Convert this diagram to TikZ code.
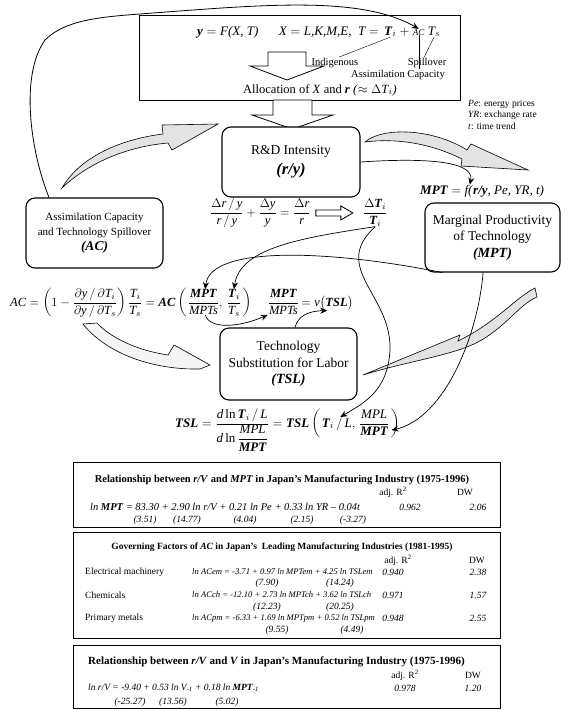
\RequirePackage{fix-cm}
\documentclass[tikz,border=0pt]{standalone}
\usepackage{amsmath}
\usepackage{fontspec}
\setmainfont{Liberation Serif}
\usetikzlibrary{arrows.meta,positioning,calc}

\newcommand{\iv}[1]{\textit{#1}}
\newcommand{\bv}[1]{\textbf{\textit{#1}}}

\begin{document}
\begin{tikzpicture}[x=1pt,y=-1pt,
    % 框、公式和箭头的样式
    mainbox/.style={draw, line width=0.9pt, minimum width=321pt, minimum height=85pt},
    roundbox/.style={draw, line width=1.1pt, rounded corners=9pt, align=center, fill=white, font=\fontsize{13.5}{16.5}\selectfont},
    eqpart/.style={inner sep=0pt, anchor=base west, font=\fontsize{12.5}{14}\selectfont},
    tag/.style={inner sep=1pt, font=\fontsize{10.5}{12}\selectfont},
    note/.style={inner sep=0pt, anchor=west, font=\fontsize{9.5}{11}\selectfont},
    hollow/.style={draw, fill=white, line width=0.8pt},
    swoosh/.style={draw, fill=gray!22, line width=0.6pt},
    link/.style={-{Stealth[length=7pt,width=6pt]}, line width=0.7pt},
    tbl/.style={draw, line width=0.9pt},
    tbltxt/.style={inner sep=0pt, font=\fontsize{9.5}{11}\selectfont},
    tblhead/.style={inner sep=0pt, font=\fontsize{10.5}{12}\selectfont\bfseries}]

    \useasboundingbox (0,0) rectangle (570,710);

    % 顶部的生产函数框
    \node[mainbox] (top) at (299.5,57.5) {};
    \node[eqpart, font=\fontsize{13}{15}\selectfont] (tA) at (197,35) {$\bv{y} = \iv{F(X, T)}$};
    \node[eqpart, font=\fontsize{13}{15}\selectfont] (tB) at ($(tA.base east)+(20,0)$) {$\iv{X} = \iv{L,K,M,E,}\ \ \iv{T} =$};
    \node[eqpart, font=\fontsize{13}{15}\selectfont] (tTi) at ($(tB.base east)+(5,0)$) {$\bv{T}_{i}$};
    \node[eqpart, font=\fontsize{13}{15}\selectfont] (tPlus) at ($(tTi.base east)+(3,0)$) {$+$};
    \node[eqpart, font=\fontsize{9}{10}\selectfont] (acT) at ($(tPlus.base east)+(3,0)$) {\iv{AC}};
    \node[eqpart, font=\fontsize{13}{15}\selectfont] (tTs) at ($(acT.base east)+(3,0)$) {$\iv{T}_{s}$};

    \node[tag] (ind) at (335,63) {Indigenous};
    \node[tag] (spill) at (427,63) {Spillover};
    \node[tag] (assim) at (398,75) {Assimilation Capacity};
    \draw (tTi.south) -- (ind.55);
    \draw (acT.south) -- (acT.south |- assim.north);
    \draw (tTs.south) -- (spill.115);

    % 框内和框下的空心箭头
    \draw[hollow] (268,52) -- (306,52) -- (306,66) -- (324,66) -- (287,80) -- (250,66) -- (268,66) -- cycle;
    \node[font=\fontsize{12.5}{14}\selectfont, inner sep=1pt] (alloc) at (320,90) {Allocation of \iv{X} and \bv{r} \iv{(}$\approx\Delta$\iv{T}$_i$\iv{)}};
    \draw[hollow] (273,100) -- (312,100) -- (312,115) -- (333,115) -- (292.5,129) -- (252,115) -- (273,115) -- cycle;

    % 右上角的变量说明
    \node[note] (pe) at (468,104) {\iv{Pe}: energy prices};
    \node[note] (yr) at (468,115) {\iv{YR}: exchange rate};
    \node[note] (tt) at (468,126) {\iv{t}: time trend};

    % 弯曲的块状箭头
    \filldraw[swoosh] (62,188) .. controls (78,160) and (115,140) .. (163,134) -- (162,125) -- (218,124) -- (172,150) -- (168,143) .. controls (122,147) and (85,166) .. (62,188) -- cycle;
    \filldraw[swoosh] (365,142) .. controls (382,127) and (432,128) .. (467,150) -- (471,144) -- (528,170) -- (461,166) -- (462,159) .. controls (430,143) and (395,138) .. (365,142) -- cycle;
    \filldraw[swoosh, fill=gray!8] (83,324) .. controls (105,352) and (150,370) .. (200,369) -- (210,365) -- (174,345) -- (168,355) .. controls (135,350) and (110,337) .. (97,323) -- cycle;
    \filldraw[swoosh] (535,288) .. controls (515,298) and (497,322) .. (458,341) -- (460,335) -- (363,375) .. controls (405,362) and (448,356) .. (474,344) .. controls (505,329) and (518,305) .. (537,297) -- cycle;

    % 四个圆角框
    \node[roundbox, minimum width=138pt, minimum height=70pt] (rd) at (291,162) {R\&D Intensity\\[3pt]{\fontsize{16.5}{18}\selectfont\bv{(r/y)}}};
    \node[roundbox, minimum width=137pt, minimum height=70pt, font=\fontsize{11}{15}\selectfont] (ac) at (94.5,233) {Assimilation Capacity\\and Technology Spillover\\{\fontsize{13.5}{15}\selectfont\bv{(AC)}}};
    \node[roundbox, minimum width=135pt, minimum height=69pt] (mpt) at (492.5,237.5) {Marginal Productivity\\of Technology\\{\fontsize{14}{15}\selectfont\bv{(MPT)}}};
    \node[roundbox, minimum width=137pt, minimum height=72pt] (tsl) at (288.5,364) {Technology\\Substitution for Labor\\{\fontsize{14}{15}\selectfont\bv{(TSL)}}};

    % R&D 下面的公式
    \node[eqpart] (rdEq) at (210,216) {$\dfrac{\Delta\iv{r}\,/\,\iv{y}}{\iv{r}\,/\,\iv{y}}+\dfrac{\Delta\iv{y}}{\iv{y}}=\dfrac{\Delta\iv{r}}{\iv{r}}$};
    \draw[hollow] ($(rdEq.east)+(5,-3)$) -- ++(25,0) -- ++(0,-4) -- ++(12,7) -- ++(-12,7) -- ++(0,-4) -- ++(-25,0) -- cycle;
    \node[eqpart] (dTi) at ($(rdEq.base east)+(52,0)$) {$\dfrac{\Delta\bv{T}_i}{\bv{T}_i}$};

    % MPT 的函数
    \node[eqpart, font=\fontsize{13}{15}\selectfont] (mptL) at (420,194) {\bv{MPT}};
    \node[eqpart, font=\fontsize{13}{15}\selectfont] (mptR) at ($(mptL.base east)+(3,0)$) {$=$ \iv{f(}\bv{r/y}\iv{, Pe, YR, t)}};

    % AC 的公式
    \node[eqpart] (acEq) at (10,306) {$\iv{AC} = \left(1-\dfrac{\partial\iv{y}\,/\,\partial\iv{T}_i}{\partial\iv{y}\,/\,\partial\iv{T}_s}\right)\dfrac{\iv{T}_i}{\iv{T}_s} = \bv{AC}\left(\vphantom{\dfrac{\bv{M}}{\iv{M}}}\right.$};
    \node[eqpart] (acMpt) at (acEq.base east) {$\dfrac{\bv{MPT}}{\iv{MPTs}},$};
    \node[eqpart] (acTi) at ($(acMpt.base east)+(4,0)$) {$\dfrac{\bv{T}_i}{\iv{T}_s}$};
    \node[eqpart] (acR) at (acTi.base east) {$\left.\vphantom{\dfrac{\bv{M}}{\iv{M}}}\right)$};
    \node[eqpart] (rat) at ($(acR.base east)+(16,0)$) {$\dfrac{\bv{MPT}}{\iv{MPTs}}$};
    \node[eqpart] (vT) at ($(rat.base east)+(2,0)$) {$=\iv{v}\bigl(\bv{TSL}\bigr)$};

    % TSL 的公式
    \node[eqpart, font=\fontsize{13}{15}\selectfont] (tslEq) at (175,427) {$\bv{TSL} = \dfrac{\iv{d}\,\textrm{ln}\,\bv{T}_i\,/\,\iv{L}}{\iv{d}\,\textrm{ln}\,\dfrac{\iv{MPL}}{\bv{MPT}}} = \bv{TSL}\left(\vphantom{\dfrac{\iv{M}}{\bv{M}}}\right.$};
    \node[eqpart, font=\fontsize{13}{15}\selectfont] (tslTi) at (tslEq.base east) {$\bv{T}_i\,/\,\iv{L},\ $};
    \node[eqpart, font=\fontsize{13}{15}\selectfont] (tslMpt) at (tslTi.base east) {$\dfrac{\iv{MPL}}{\bv{MPT}}$};
    \node[eqpart, font=\fontsize{13}{15}\selectfont] (tslR) at (tslMpt.base east) {$\left.\vphantom{\dfrac{\iv{M}}{\bv{M}}}\right)$};

    % 细的连线
    \draw[link, line width=0.8pt] (ac.142) .. controls (30,150) and (20,75) .. (45,40) .. controls (65,20) and (100,17) .. (140,14) .. controls (260,5) and (360,-5) .. (acT.north);
    \draw[link] (rd.east) .. controls (420,158) and (475,160) .. ($(mptR.north west)!0.2!(mptR.north east)$);
    \draw[link] (dTi.south) .. controls (300,238) and (240,248) .. (acTi.north);
    \draw[link] (dTi.south) .. controls (330,268) and (392,295) .. (390,350) .. controls (388,392) and (362,404) .. (tslTi.north);
    \draw[link] (mpt.215) .. controls (330,250) and (210,245) .. (acMpt.north);
    \draw[link] (acMpt.south) .. controls (210,330) and (240,327) .. (rat.south west);
    \draw[link] (tsl.80) .. controls (298,316) and (308,311) .. (vT.south);
    \draw[link] (mpt.255) .. controls (478,335) and (445,418) .. ($(tslMpt.south east)+(2,-6)$);

    % 第一个回归表
    \draw[tbl] (73,462) rectangle (500,527);
    \node[tblhead] (h1) at (282,480) {Relationship between \textit{r/V} and \textit{MPT} in Japan's Manufacturing Industry (1975-1996)};
    \node[tbltxt] (r1) at (393,492) {adj. R\textsuperscript{2}};
    \node[tbltxt] (w1) at (465,492) {DW};
    \node[tbltxt, anchor=west, font=\fontsize{10.5}{12}\selectfont] (e1) at (90,507) {\itshape ln \textbf{MPT} = 83.30 + 2.90 ln r/V + 0.21 ln Pe + 0.33 ln YR -- 0.04t};
    \node[tbltxt] (v1) at (410,507) {\itshape 0.962};
    \node[tbltxt] (d1) at (478,507) {\itshape 2.06};
    \foreach \x/\t [count=\i] in {145/{(3.51)}, 187/{(14.77)}, 245/{(4.04)}, 302/{(2.15)}, 353/{(-3.27)}}
        \node[tbltxt] (s\i) at (\x,520) {\itshape\t};

    % 第二个回归表
    \draw[tbl] (73,532) rectangle (500,638);
    \node[tblhead, font=\fontsize{9.5}{11}\selectfont\bfseries] (h2) at (282,547) {Governing Factors of \textit{AC} in Japan's\ \ Leading Manufacturing Industries (1981-1995)};
    \node[tbltxt] (r2) at (398,560) {adj. R\textsuperscript{2}};
    \node[tbltxt] (w2) at (477,560) {DW};
    \foreach \nm/\eqn/\rr/\dw/\y [count=\i] in {
        Electrical machinery/{ln ACem = -3.71 + 0.97 ln MPTem + 4.25 ln TSLem}/0.940/2.38/572,
        Chemicals/{ln ACch = -12.10 + 2.73 ln MPTch + 3.62 ln TSLch}/0.971/1.57/595,
        Primary metals/{ln ACpm = -6.33 + 1.69 ln MPTpm + 0.52 ln TSLpm}/0.948/2.55/618}{
        \node[tbltxt, anchor=west] (n\i) at (85,\y) {\nm};
        \node[tbltxt, anchor=west, font=\fontsize{8.6}{10}\selectfont] (q\i) at (192,\y) {\itshape \eqn};
        \node[tbltxt] (a\i) at (393,\y) {\itshape \rr};
        \node[tbltxt] (b\i) at (478,\y) {\itshape \dw};
    }
    \foreach \x/\y/\t [count=\i] in {267/583/{(7.90)}, 340/583/{(14.24)}, 267/607/{(12.23)}, 340/607/{(20.25)}, 277/630/{(9.55)}, 352/630/{(4.49)}}
        \node[tbltxt] (tv\i) at (\x,\y) {\itshape\t};

    % 第三个回归表
    \draw[tbl] (73,645) rectangle (500,708);
    \node[tblhead, anchor=west, font=\fontsize{11}{12}\selectfont\bfseries] (h3) at (88,662) {Relationship between \textit{r/V} and \textit{V} in Japan's Manufacturing Industry (1975-1996)};
    \node[tbltxt] (r3) at (405,675) {adj. R\textsuperscript{2}};
    \node[tbltxt] (w3) at (473,675) {DW};
    \node[tbltxt, anchor=west] (e3) at (88,688) {\itshape ln r/V = -9.40 + 0.53 ln V\textsubscript{-1} + 0.18 ln \textbf{MPT}\textsubscript{-1}};
    \node[tbltxt] (v3) at (405,688) {\itshape 0.978};
    \node[tbltxt] (d3) at (473,688) {\itshape 1.20};
    \foreach \x/\t [count=\i] in {130/{(-25.27)}, 173/{(13.56)}, 227/{(5.02)}}
        \node[tbltxt] (u\i) at (\x,702) {\itshape\t};
\end{tikzpicture}
\end{document}
